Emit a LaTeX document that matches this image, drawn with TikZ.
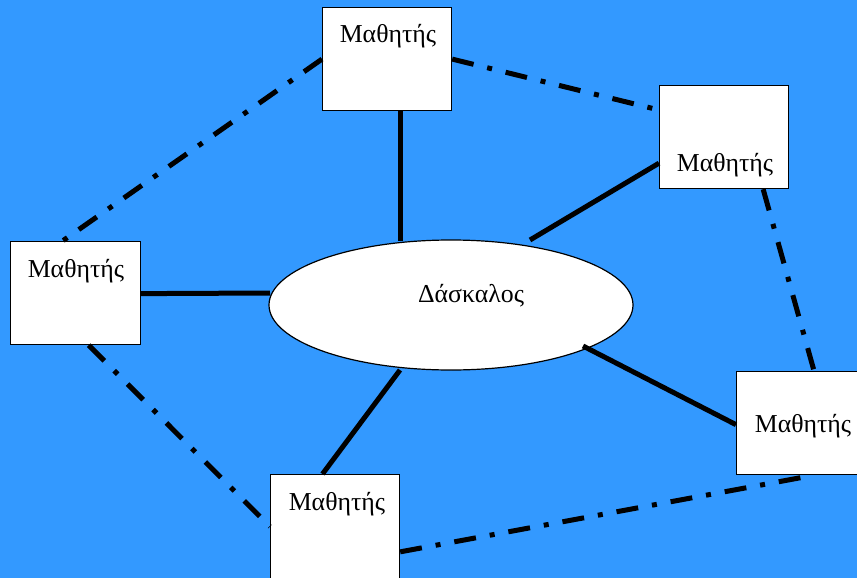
\documentclass[tikz,border=0pt]{standalone}
\usepackage{fontspec}
\setmainfont{Liberation Serif}
\usetikzlibrary{shapes.geometric,calc}
\definecolor{bgblue}{RGB}{51,153,255}
\begin{document}
\begin{tikzpicture}[x=1pt,y=-1pt,
  box/.style={draw=black,line width=1.2pt,fill=white,rectangle,inner sep=0pt,anchor=north west},
  lbl/.style={anchor=base,inner sep=0pt,font=\fontsize{25.8}{30}\selectfont},
  solidlink/.style={line width=5pt},
  dashlink/.style={line width=5pt,dash pattern=on 22pt off 14pt on 5pt off 14pt}]
\fill[bgblue] (0,0) rectangle (857,578);
\useasboundingbox (0,0) rectangle (857,578);
\clip (0,0) rectangle (857,578);
% boxes
\node[box,minimum width=129pt,minimum height=103pt] (top) at (322,7) {};
\node[box,minimum width=129pt,minimum height=103pt] (rtop) at (659,85) {};
\node[box,minimum width=130pt,minimum height=103pt] (left) at (10,241) {};
\node[box,minimum width=130pt,minimum height=103pt] (rbot) at (736,371) {};
\node[box,minimum width=129pt,minimum height=104pt] (bot) at (270,474) {};
\node[draw=black,line width=1.2pt,fill=white,ellipse,inner sep=0pt,minimum width=364pt,minimum height=130pt] (teacher) at (451,305) {};
% labels
\node[lbl] (ttop) at (388,43) {Μαθητής};
\node[lbl] (trtop) at (725,171) {Μαθητής};
\node[lbl] (tleft) at (76,277) {Μαθητής};
\node[lbl] (trbot) at (803,432) {Μαθητής};
\node[lbl] (tbot) at (337,510) {Μαθητής};
\node[lbl] (tteach) at (471,302) {Δάσκαλος};
% connection points
\coordinate (e1) at (400,241);
\coordinate (e2) at (530,240);
\coordinate (e3) at (270,293);
\coordinate (e4) at (400,370);
\coordinate (e5) at (583,346);
% solid links
\draw[solidlink] (top.south -| e1) -- (e1);
\draw[solidlink] ($(rtop.north west)!0.75!(rtop.south west)$) -- (e2);
\draw[solidlink] ($(left.north east)!0.505!(left.south east)$) -- (e3);
\draw[solidlink] ($(bot.north west)!0.403!(bot.north east)$) -- (e4);
\draw[solidlink] ($(rbot.north west)!0.515!(rbot.south west)$) -- (e5);
% dash-dot links
\draw[dashlink] ($(top.north west)!0.5!(top.south west)$) -- ($(left.north west)!0.4!(left.north east)$);
\draw[dashlink] ($(top.north east)!0.5!(top.south east)$) -- ($(rtop.north west)!0.24!(rtop.south west)$);
\draw[dashlink] ($(rtop.south west)!0.8!(rtop.south east)$) -- ($(rbot.north west)!0.595!(rbot.north east)$);
\draw[dashlink] ($(left.south west)!0.6!(left.south east)$) -- ($(bot.north west)!0.5!(bot.south west)$);
\draw[dashlink] ($(bot.north east)!0.74!(bot.south east)$) -- ($(rbot.south west)!0.595!(rbot.south east)$);
\end{tikzpicture}
\end{document}
